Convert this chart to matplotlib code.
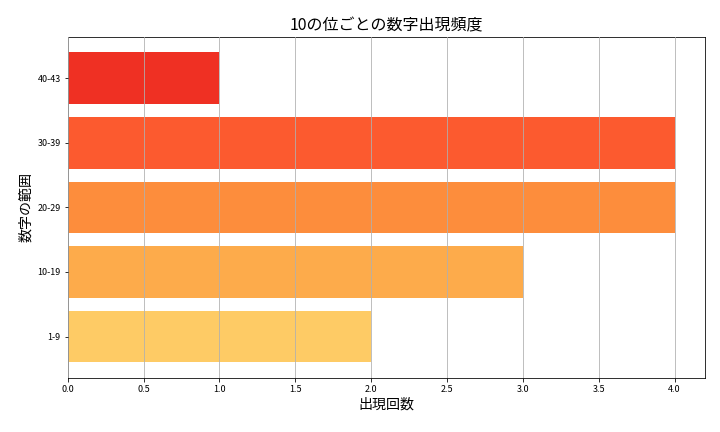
import matplotlib
matplotlib.use("Agg")
import matplotlib.pyplot as plt

plt.rcParams["font.family"] = "Noto Sans CJK JP"

ranges = ["1-9", "10-19", "20-29", "30-39", "40-43"]
counts = [2, 3, 4, 4, 1]
colors = ["#fecb65", "#fdab4b", "#fd8d3c", "#fc5a2f", "#ef3023"]

fig = plt.figure(figsize=(10, 6), dpi=72)
ax = fig.add_axes([0.094, 0.125, 0.885, 0.79])
ax.barh(ranges, counts, color=colors, height=0.8)
ax.set_axisbelow(False)
ax.grid(axis="x", color="#b0b0b0", lw=0.8)
ax.set_xticks([0, 0.5, 1, 1.5, 2, 2.5, 3, 3.5, 4])
ax.set_xticklabels(["0.0", "0.5", "1.0", "1.5", "2.0", "2.5", "3.0", "3.5", "4.0"])
ax.tick_params(labelsize=9)
ax.set_xlim(0, 4.2)
ax.set_xlabel("出現回数", fontsize=14)
ax.set_ylabel("数字の範囲", fontsize=14)
ax.set_title("10の位ごとの数字出現頻度", fontsize=16)
fig.savefig("out.png", dpi=72)
